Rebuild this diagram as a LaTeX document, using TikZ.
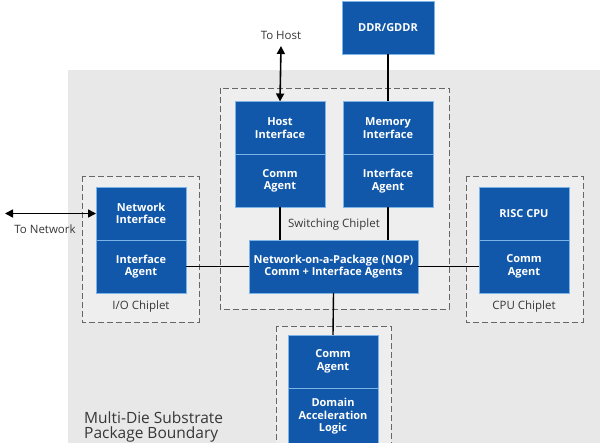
\documentclass[tikz,border=0pt]{standalone}
\usepackage{fontspec}
\setmainfont{Open Sans}
\usetikzlibrary{positioning, arrows.meta}
\definecolor{chipblue}{RGB}{18,88,170}
\definecolor{edgeblue}{RGB}{125,180,232}
\definecolor{substrate}{RGB}{232,232,232}
\definecolor{chipgray}{RGB}{238,238,238}
\definecolor{labelgray}{RGB}{55,55,55}

\tikzset{
	blk/.style={fill=chipblue, draw=edgeblue, line width=0.8pt, text=white,
		font=\fontsize{11}{12.5}\selectfont\bfseries, align=center,
		inner sep=0pt, outer sep=0pt, minimum width=90pt, minimum height=53pt},
	chiplet/.style={draw=black!60, dash pattern=on 6pt off 3pt, fill=chipgray, line width=0.7pt},
	lbl/.style={text=labelgray, font=\fontsize{11.5}{13}\selectfont},
	link/.style={line width=1.4pt},
	ext/.style={line width=1.6pt, {Triangle[length=8pt,width=8pt]}-{Triangle[length=8pt,width=8pt]}}
}

\begin{document}
\begin{tikzpicture}[x=1pt, y=-1pt]
				\useasboundingbox (0,0) rectangle (600,443);
				\clip (0,0) rectangle (600,443);
				
				% package substrate and chiplet frames
				\fill[substrate] (68,70) rectangle (600,443);
				\draw[chiplet] (220,88) rectangle (449,309);
				\draw[chiplet] (82,176) rectangle (199,322);
				\draw[chiplet] (466,176) rectangle (583,322);
				\draw[chiplet] (276,326) rectangle (391,460);
				
				% blocks
				\node[blk, minimum width=92pt] (ddr) at (388,27.5) {DDR/GDDR};
				
				\node[blk] (hostI) at (280,128) {Host\\Interface};
				\node[blk, below=0pt of hostI] (hostA) {Comm\\Agent};
				\node[blk] (memI) at (388,128) {Memory\\Interface};
				\node[blk, below=0pt of memI] (memA) {Interface\\Agent};
				
				\node[blk] (netI) at (141,213.5) {Network\\Interface};
				\node[blk, below=0pt of netI] (netA) {Interface\\Agent};
				\node[blk] (cpuI) at (524,213.5) {RISC CPU};
				\node[blk, below=0pt of cpuI] (cpuA) {Comm\\Agent};
				
				\node[blk, minimum width=169pt] (nop) at (333.5,266.5) {Network-on-a-Package (NOP)\\Comm + Interface Agents};
				
				\node[blk] (accA) at (333,361.5) {Comm\\Agent};
				\node[blk, below=0pt of accA, minimum height=57pt] (accL) {Domain\\Acceleration\\Logic};
				
				% external ports
				\coordinate (host) at (281,46);
				\coordinate (net) at (5,213.5);
				\node[lbl] (hostLbl) at (281,35) {To Host};
				\node[lbl] (netLbl) at (45,229) {To Network};
				
				\draw[ext] (host) -- (hostI.north);
				\draw[ext] (net) -- (netI.west);
				
				% links
				\draw[link] (ddr.south) -- (memI.north);
				\draw[link] (hostA.south) -- (hostA.south |- nop.north);
				\draw[link] (memA.south) -- (memA.south |- nop.north);
				\draw[link] (netA.east) -- (nop.west);
				\draw[link] (nop.east) -- (cpuA.west);
				\draw[link] (nop.south) -- (accA.north);
				
				% chiplet labels
				\node[lbl] (swLbl) at (334,225) {Switching Chiplet};
				\node[lbl] (ioLbl) at (141,307) {I/O Chiplet};
				\node[lbl] (cpuLbl) at (524,307) {CPU Chiplet};
				\node[lbl, font=\fontsize{15.5}{15}\selectfont, align=left, anchor=west, inner sep=0pt] (pkgLbl) at (84,427) {Multi-Die Substrate\\Package Boundary};
\end{tikzpicture}
\end{document}
